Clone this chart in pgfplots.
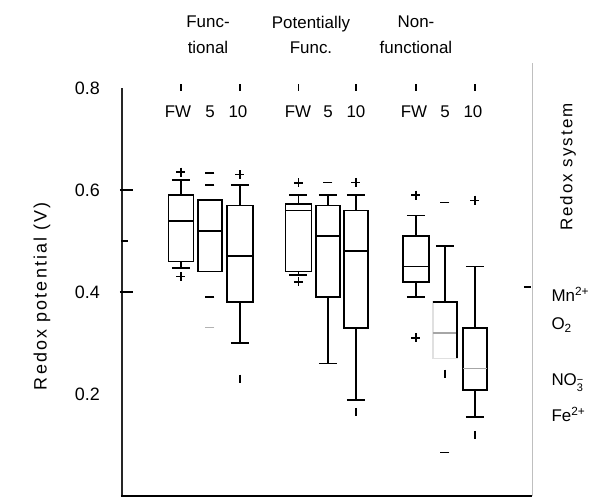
\documentclass[border=0pt]{standalone}
\usepackage{fontspec}
\setmainfont{Liberation Sans}
\newfontfamily\spaced[LetterSpace=12]{Liberation Sans}
\usepackage{pgfplots}
\pgfplotsset{compat=1.18}
\usepgfplotslibrary{statistics}
\begin{document}
\begin{tikzpicture}
\begin{axis}[
  scale only axis, width=410bp, height=408bp,
  xmin=122, xmax=532, ymin=0, ymax=0.8,
  clip=false,
  axis line style={draw=none},
  xtick=\empty,
  ytick={0.2,0.4,0.6,0.8}, ytick pos=left,
  ytick style={draw=none},
  /pgf/number format/assume math mode=true,
  /pgf/number format/fixed, /pgf/number format/precision=1,
  yticklabel style={font=\fontsize{18}{20}\selectfont, anchor=east, inner sep=0pt, xshift=-22bp},
  boxplot/draw direction=y,
  boxplot/every median/.style={line width=1.8bp},
]
% axis lines
\draw[black!85, line width=1.4bp] (axis cs:122,0.8) -- (axis cs:122,0);
\draw[black, line width=2.4bp] (axis cs:121,0) -- (axis cs:532,0);
\draw[black!25, line width=0.8bp] (axis cs:532,0) -- (axis cs:532,0.85);
% y tick marks
\draw[black, line width=1.6bp] (axis cs:120,0.6) -- (axis cs:133,0.6);
\draw[black, line width=1.6bp] (axis cs:120,0.4) -- (axis cs:133,0.4);
\draw[black, line width=1.2bp] (axis cs:121,0.5) -- (axis cs:128,0.5);
% top ticks
\foreach \xx in {181,240,298.5,356,416,475}{
  \edef\tmp{\noexpand\draw[black, line width=1.2bp] (axis cs:\xx,0.795) -- (axis cs:\xx,0.808);}\tmp
}
% right tick
\draw[black, line width=1.4bp] (axis cs:524,0.41) -- (axis cs:531,0.41);

% Functional
\addplot[black, line width=1.6bp, boxplot prepared={draw position=181, lower whisker=0.447, lower quartile=0.46, median=0.54, upper quartile=0.59, upper whisker=0.62, box extend=25, whisker extend=18}] coordinates {};
\addplot[black, line width=1.6bp, boxplot prepared={draw position=210, lower whisker=0.44, lower quartile=0.44, median=0.52, upper quartile=0.58, upper whisker=0.58, box extend=24, whisker extend=18}] coordinates {};
\addplot[black, line width=1.6bp, boxplot prepared={draw position=240, lower whisker=0.30, lower quartile=0.38, median=0.47, upper quartile=0.57, upper whisker=0.61, box extend=26, whisker extend=18}] coordinates {};
% Potentially functional
\addplot[black, line width=1.6bp, boxplot prepared={draw position=298.5, lower whisker=0.433, lower quartile=0.44, median=0.56, upper quartile=0.573, upper whisker=0.59, box extend=26, whisker extend=18}] coordinates {};
\addplot[black, line width=1.6bp, boxplot prepared={draw position=328, lower whisker=0.26, lower quartile=0.39, median=0.51, upper quartile=0.57, upper whisker=0.59, box extend=24, whisker extend=18}] coordinates {};
\addplot[black, line width=1.6bp, boxplot prepared={draw position=356, lower whisker=0.188, lower quartile=0.33, median=0.48, upper quartile=0.56, upper whisker=0.59, box extend=24, whisker extend=18}] coordinates {};
% Non-functional
\addplot[black, line width=1.6bp, boxplot prepared={draw position=416, lower whisker=0.39, lower quartile=0.42, median=0.45, upper quartile=0.51, upper whisker=0.55, box extend=26, whisker extend=18}] coordinates {};
\addplot[black, line width=1.6bp, boxplot prepared={draw position=445, lower whisker=0.27, lower quartile=0.27, median=0.32, upper quartile=0.38, upper whisker=0.49, box extend=24, whisker extend=18}, boxplot/every median/.style={black!35, line width=1.4bp}, boxplot/every box/.style={draw=black!12}] coordinates {};
\draw[black, line width=1.6bp] (axis cs:433,0.38) -- (axis cs:457,0.38) -- (axis cs:457,0.27);
\addplot[black, line width=1.6bp, boxplot prepared={draw position=475, lower whisker=0.155, lower quartile=0.208, median=0.25, upper quartile=0.33, upper whisker=0.45, box extend=24, whisker extend=18}, boxplot/every median/.style={black!35, line width=1.4bp}] coordinates {};

% outliers
\addplot[only marks, black, mark=+, mark size=4.5bp, line width=1.4bp] coordinates {
  (181,0.635) (181,0.43) (240,0.63) (298.5,0.614) (298.5,0.42)
  (356,0.615) (416,0.59) (416,0.31) (475,0.58)};
\addplot[only marks, black, mark=-, mark size=4.5bp, line width=1.4bp] coordinates {
  (210,0.633) (210,0.61) (210,0.39) (328,0.615) (445,0.575) (445,0.085)};
\addplot[only marks, black!30, mark=-, mark size=4.5bp, line width=1.4bp] coordinates {(210,0.33)};
\addplot[only marks, black, mark=|, mark size=4bp, line width=1.4bp] coordinates {
  (240,0.23) (356,0.165) (445,0.24) (475,0.12)};

% group titles
\begin{scope}[every node/.style={font=\fontsize{17}{26}\selectfont, align=center}]
\node at (axis cs:208,0.904) {Func-\\tional};
\node at (axis cs:311,0.904) {Potentially\\Func.};
\node at (axis cs:416,0.904) {Non-\\functional};
\foreach \xx/\lab in {178/FW,210/5,238/10,298/FW,328/5,356/10,414/FW,445/5,473/10}{
  \edef\tmp{\noexpand\node at (axis cs:\xx,0.753) {\lab};}\tmp
}
\node[anchor=west] at (axis cs:548,0.395) {Mn\textsuperscript{2+}};
\node[anchor=west] at (axis cs:548,0.335) {O\textsubscript{2}};
\node[anchor=west] at (axis cs:548,0.22) {NO\raisebox{-0.35ex}{\fontsize{11}{9}\selectfont\begin{tabular}{@{}l@{}}−\\[-3pt]3\end{tabular}}};
\node[anchor=west] at (axis cs:548,0.16) {Fe\textsuperscript{2+}};
\end{scope}
\node[rotate=90, font=\fontsize{18}{20}\selectfont\spaced] at (axis cs:42,0.392) {Redox potential (V)};
\node[rotate=90, font=\fontsize{17}{20}\selectfont\spaced] at (axis cs:568,0.645) {Redox system};
\end{axis}
\pgfresetboundingbox
\path[use as bounding box] (-122bp,-6bp) rectangle (483bp,496bp);
\end{tikzpicture}
\end{document}
